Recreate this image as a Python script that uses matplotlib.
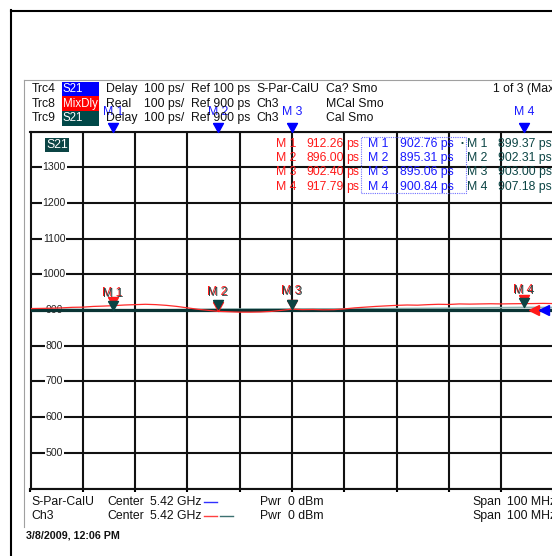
import numpy as np
import matplotlib
matplotlib.use("Agg")
import matplotlib.pyplot as plt
from matplotlib.patches import Rectangle
from matplotlib.lines import Line2D

plt.rcParams['font.family'] = ['Liberation Sans', 'DejaVu Sans']

# sweep: center 5.42 GHz, span 100 MHz
f_start, f_stop = 5.37, 5.47
y_lo, y_hi = 400, 1400
ref_level = 900

# Trc8 MixDly (red), sampled every 2 MHz from f_start
red_mhz = list(range(0, 101, 2))
red_ps = [904, 904.5, 905, 906, 907.5, 908, 910, 911, 912.3, 914,
          915, 916, 915, 913, 910, 906, 902, 899, 896, 895,
          894, 894, 894.5, 896, 899, 902.4, 901, 901.5, 900.5, 901,
          903, 906, 908, 910, 911.5, 913, 914, 913.5, 915, 916,
          915.5, 917, 916.5, 917, 917.5, 917, 917.5, 917.8, 918, 918.5,
          918]

# Trc9 S21 delay (teal)
teal_mhz = [0, 6, 10, 15.8, 25, 35.9, 50, 60, 70, 80, 94.4, 100]
teal_ps = [903, 902, 901, 899.4, 900, 902.3, 903, 903, 904, 905, 907.2, 907]

# markers
marker_names = ["M 1", "M 2", "M 3", "M 4"]
marker_mhz = [15.8, 35.85, 50.0, 94.4]
red_readout = [912.26, 896.00, 902.40, 917.79]
blue_readout = [902.76, 895.31, 895.06, 900.84]
teal_readout = [899.37, 902.31, 903.00, 907.18]

W, H = 552, 556
def fx(x):
    return x / W
def fy(y):
    return 1 - y / H

RED = '#ff1a1a'
BLUE = '#1a1aff'
TEAL = '#0b4444'
FS = 8.8

fig = plt.figure(figsize=(W / 100, H / 100), dpi=100)

# frames
fig.add_artist(Line2D([fx(10.5), fx(10.5)], [fy(10), fy(556)], color='black', lw=1.5))
fig.add_artist(Line2D([fx(10.5), fx(552)], [fy(10.5), fy(10.5)], color='black', lw=1.5))
fig.add_artist(Line2D([fx(24), fx(24)], [fy(80), fy(527)], color='#a0a0a0', lw=0.8))
fig.add_artist(Line2D([fx(24), fx(552)], [fy(80), fy(80)], color='#a0a0a0', lw=0.8))

ax = fig.add_axes([fx(30.5), fy(488.5), (553.5 - 30.5) / W, (488.5 - 131.5) / H])
ax.set_xlim(f_start, f_stop)
ax.set_ylim(y_lo, y_hi)
ax.set_xticks(np.linspace(f_start, f_stop, 11))
ax.set_yticks(np.arange(y_lo, y_hi + 1, 100))
ax.set_axisbelow(True)
ax.grid(True, color='#111111', lw=1.5)
ax.tick_params(labelleft=False, labelbottom=False, left=False,
               bottom=True, direction='out', length=2, width=1.5)
for s in ax.spines.values():
    s.set_color('#111111')
    s.set_linewidth(1.5)

# y labels on grid lines
for v in range(500, 1400, 100):
    ax.text(0.045, v, str(v), transform=ax.get_yaxis_transform(), ha='center',
            va='center', fontsize=7.6, color='#222222', zorder=2,
            bbox=dict(fc='white', ec='none', pad=0.6))

ax.text(0.03, 0.962, "S21", transform=ax.transAxes, ha='left', va='center',
        fontsize=FS, color='white', zorder=6,
        bbox=dict(fc=TEAL, ec='none', pad=1.0))

to_ghz = lambda m: f_start + np.asarray(m) / 1000.0

# traces
ax.plot(to_ghz(teal_mhz), teal_ps, color='#8fb3b0', lw=1.2, zorder=2.9)
ax.axhline(ref_level, color='#0a3434', lw=2.3, zorder=3)
ax.plot(to_ghz(red_mhz), red_ps, color='#ff2a2a', lw=0.9, zorder=3.5)

tri_down = [(-0.55, 1), (0.55, 1), (0, 0), (-0.55, 1)]
mf = to_ghz(marker_mhz)

# in-plot markers (red drawn behind teal)
ax.plot(mf, red_readout, ls='none', marker=tri_down, ms=13, color=RED,
        zorder=4.5, clip_on=False)
ax.plot(mf, teal_readout, ls='none', marker=tri_down, ms=13, color=TEAL,
        zorder=5, clip_on=False)
for name, f, tv in zip(marker_names, mf, teal_readout):
    ax.annotate(name, (f, tv), xytext=(-0.6, 12.6), textcoords='offset points',
                ha='center', va='center', fontsize=FS, color=RED, zorder=4.6)
    ax.annotate(name, (f, tv), xytext=(0, 12.0), textcoords='offset points',
                ha='center', va='center', fontsize=FS, color='#284848', zorder=5.1)

# top (blue trace) markers
xt = ax.get_xaxis_transform()
ax.plot(mf, [1, 1, 1, 1], transform=xt, ls='none', marker=tri_down, ms=13,
        color='#0000ff', zorder=6, clip_on=False)
for name, f in zip(marker_names, mf):
    ax.annotate(name, (f, 1), xycoords=xt, xytext=(0, 14), textcoords='offset points',
                ha='center', va='center', fontsize=FS, color=BLUE, zorder=6,
                annotation_clip=False)

# reference arrows on right
ax.plot([0.963], [ref_level], transform=ax.get_yaxis_transform(), marker='<',
        ms=7, color=RED, ls='none', zorder=6, clip_on=False)
ax.plot([0.981], [ref_level], transform=ax.get_yaxis_transform(), marker='<',
        ms=7, color='#0000ff', ls='none', zorder=6, clip_on=False)

# header
rows = [89, 104, 118]
trc = ["Trc4", "Trc8", "Trc9"]
tags = ["S21", "MixDly", "S21"]
tag_col = ['#0000ff', '#ff0000', '#004848']
fmt = ["Delay", "Real", "Delay"]
scale = ["100 ps/", "100 ps/", "100 ps/"]
refs = ["Ref 100 ps", "Ref 900 ps", "Ref 900 ps"]
chan = ["S-Par-CalU", "Ch3", "Ch3"]
cal = ["Ca? Smo", "MCal Smo", "Cal Smo"]
box_y = [(82, 96), (96, 111), (111, 126)]
for i, y in enumerate(rows):
    y0, y1 = box_y[i]
    fig.add_artist(Rectangle((fx(62), fy(y1)), (99 - 62) / W, (y1 - y0) / H,
                             transform=fig.transFigure, fc=tag_col[i], ec='none'))
    fig.text(fx(63), fy(y), tags[i], color='white', fontsize=8.3, va='center')
    fig.text(fx(32), fy(y), trc[i], color='#111111', fontsize=FS, va='center')
    fig.text(fx(106), fy(y), fmt[i], color='#111111', fontsize=FS, va='center')
    fig.text(fx(144), fy(y), scale[i], color='#111111', fontsize=FS, va='center')
    fig.text(fx(191), fy(y), refs[i], color='#111111', fontsize=FS, va='center')
    fig.text(fx(256), fy(y), chan[i], color='#111111', fontsize=FS, va='center')
    fig.text(fx(326), fy(y), cal[i], color='#111111', fontsize=FS, va='center')
fig.text(fx(493), fy(89), "1 of 3 (Max", color='#111111', fontsize=FS, va='center')

# marker readouts
ro_y = [144, 158, 172, 187]
for i, y in enumerate(ro_y):
    fig.text(fx(276), fy(y), marker_names[i], color=RED, fontsize=FS, va='center')
    fig.text(fx(344), fy(y), f"{red_readout[i]:.2f}", color=RED, fontsize=FS,
             va='center', ha='right')
    fig.text(fx(346), fy(y), "ps", color=RED, fontsize=FS, va='center')
    fig.text(fx(368), fy(y), marker_names[i], color=BLUE, fontsize=FS, va='center')
    fig.text(fx(400), fy(y), f"{blue_readout[i]:.2f} ps", color=BLUE, fontsize=FS, va='center')
    fig.text(fx(467), fy(y), marker_names[i], color=TEAL, fontsize=FS, va='center')
    fig.text(fx(498), fy(y), f"{teal_readout[i]:.2f} ps", color=TEAL, fontsize=FS, va='center')
fig.text(fx(461), fy(143), "\u2022", color=TEAL, fontsize=6, va='center')
fig.add_artist(Rectangle((fx(361), fy(193)), (466 - 361) / W, (193 - 137) / H,
                         transform=fig.transFigure, fc='none', ec='#7070ff',
                         lw=0.8, ls=(0, (1, 1))))

# footer
for y, ch in zip([502, 516], ["S-Par-CalU", "Ch3"]):
    fig.text(fx(31), fy(y), ch, color='#111111', fontsize=FS, va='center')
    fig.text(fx(107), fy(y), "Center", color='#111111', fontsize=FS, va='center')
    fig.text(fx(150), fy(y), "5.42 GHz", color='#111111', fontsize=FS, va='center')
    fig.text(fx(260), fy(y), "Pwr", color='#111111', fontsize=FS, va='center')
    fig.text(fx(288), fy(y), "0 dBm", color='#111111', fontsize=FS, va='center')
    fig.text(fx(472), fy(y), "Span", color='#111111', fontsize=FS, va='center')
    fig.text(fx(507), fy(y), "100 MHz", color='#111111', fontsize=FS, va='center')
fig.add_artist(Line2D([fx(204), fx(217)], [fy(502), fy(502)], color='#3030ff', lw=1))
fig.add_artist(Line2D([fx(204), fx(217)], [fy(516), fy(516)], color='#ff4040', lw=1))
fig.add_artist(Line2D([fx(220), fx(233)], [fy(516), fy(516)], color='#3c7070', lw=1))
fig.text(fx(26), fy(535), "3/8/2009, 12:06 PM", color='#111111', fontsize=7.7,
         va='center', fontweight='bold')

fig.savefig("out.png", dpi=100)
